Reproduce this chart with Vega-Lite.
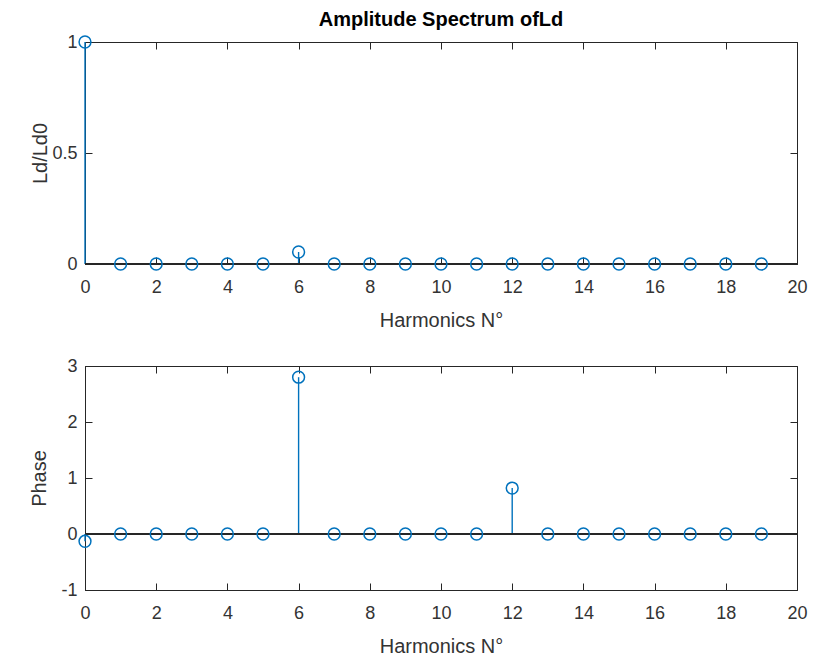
{
  "$schema": "https://vega.github.io/schema/vega-lite/v6.json",
  "padding": {"left": 29, "top": 9, "right": 12, "bottom": 2},
  "datasets": {
    "amp": [
      {"n": 0, "v": 1}, {"n": 1, "v": 0}, {"n": 2, "v": 0}, {"n": 3, "v": 0}, {"n": 4, "v": 0},
      {"n": 5, "v": 0}, {"n": 6, "v": 0.054}, {"n": 7, "v": 0}, {"n": 8, "v": 0}, {"n": 9, "v": 0},
      {"n": 10, "v": 0}, {"n": 11, "v": 0}, {"n": 12, "v": 0}, {"n": 13, "v": 0}, {"n": 14, "v": 0},
      {"n": 15, "v": 0}, {"n": 16, "v": 0}, {"n": 17, "v": 0}, {"n": 18, "v": 0}, {"n": 19, "v": 0}
    ],
    "phase": [
      {"n": 0, "v": -0.13}, {"n": 1, "v": 0}, {"n": 2, "v": 0}, {"n": 3, "v": 0}, {"n": 4, "v": 0},
      {"n": 5, "v": 0}, {"n": 6, "v": 2.8}, {"n": 7, "v": 0}, {"n": 8, "v": 0}, {"n": 9, "v": 0},
      {"n": 10, "v": 0}, {"n": 11, "v": 0}, {"n": 12, "v": 0.82}, {"n": 13, "v": 0}, {"n": 14, "v": 0},
      {"n": 15, "v": 0}, {"n": 16, "v": 0}, {"n": 17, "v": 0}, {"n": 18, "v": 0}, {"n": 19, "v": 0}
    ]
  },
  "config": {
    "font": "Liberation Sans",
    "background": "white",
    "view": {"stroke": "#262626", "strokeWidth": 1},
    "axis": {
      "grid": false,
      "domainColor": "#262626",
      "tickColor": "#262626",
      "labelColor": "#333333",
      "titleColor": "#333333",
      "labelFontSize": 18,
      "titleFontSize": 20,
      "titleFontWeight": "normal",
      "tickSize": -7,
      "labelPadding": 15,
      "labelFlush": false,
      "labelOverlap": false
    },
    "title": {"fontSize": 20, "fontWeight": "bold", "color": "#000000", "frame": "group", "offset": 3}
  },
  "spacing": 25,
  "vconcat": [
    {
      "width": 712,
      "height": 222,
      "title": "Amplitude Spectrum ofLd",
      "data": {"name": "amp"},
      "resolve": {"axis": {"x": "independent", "y": "independent"}},
      "layer": [
        {
          "mark": {"type": "rule", "color": "#0072BD", "strokeWidth": 1.4},
          "encoding": {
            "x": {"field": "n", "type": "quantitative", "scale": {"domain": [0, 20], "nice": false},
                  "axis": {"values": [0, 2, 4, 6, 8, 10, 12, 14, 16, 18, 20], "title": "Harmonics N°", "labelPadding": 21, "titlePadding": 14}},
            "y": {"field": "v", "type": "quantitative", "scale": {"domain": [0, 1], "nice": false},
                  "axis": {"values": [0, 0.5, 1], "labelExpr": "datum.value + ''", "title": "Ld/Ld0", "titlePadding": 1}},
            "y2": {"datum": 0}
          }
        },
        {
          "mark": {"type": "rule", "color": "#262626", "strokeWidth": 1},
          "encoding": {"y": {"datum": 0, "type": "quantitative", "axis": null}}
        },
        {
          "mark": {"type": "point", "shape": "circle", "filled": false, "color": "#0072BD", "size": 140, "strokeWidth": 1.5, "opacity": 1},
          "encoding": {
            "x": {"field": "n", "type": "quantitative",
                  "axis": {"orient": "top", "values": [0, 2, 4, 6, 8, 10, 12, 14, 16, 18, 20], "labels": false, "title": null, "domain": false}},
            "y": {"field": "v", "type": "quantitative",
                  "axis": {"orient": "right", "values": [0, 0.5, 1], "labels": false, "title": null, "domain": false}}
          }
        }
      ]
    },
    {
      "width": 712,
      "height": 224,
      "data": {"name": "phase"},
      "resolve": {"axis": {"x": "independent", "y": "independent"}},
      "layer": [
        {
          "mark": {"type": "rule", "color": "#0072BD", "strokeWidth": 1.4},
          "encoding": {
            "x": {"field": "n", "type": "quantitative", "scale": {"domain": [0, 20], "nice": false},
                  "axis": {"values": [0, 2, 4, 6, 8, 10, 12, 14, 16, 18, 20], "title": "Harmonics N°", "labelPadding": 21, "titlePadding": 14}},
            "y": {"field": "v", "type": "quantitative", "scale": {"domain": [-1, 3], "nice": false},
                  "axis": {"values": [-1, 0, 1, 2, 3], "labelExpr": "datum.value + ''", "title": "Phase", "titlePadding": 11}},
            "y2": {"datum": 0}
          }
        },
        {
          "mark": {"type": "rule", "color": "#262626", "strokeWidth": 1},
          "encoding": {"y": {"datum": 0, "type": "quantitative", "axis": null}}
        },
        {
          "mark": {"type": "point", "shape": "circle", "filled": false, "color": "#0072BD", "size": 140, "strokeWidth": 1.5, "opacity": 1},
          "encoding": {
            "x": {"field": "n", "type": "quantitative",
                  "axis": {"orient": "top", "values": [0, 2, 4, 6, 8, 10, 12, 14, 16, 18, 20], "labels": false, "title": null, "domain": false}},
            "y": {"field": "v", "type": "quantitative",
                  "axis": {"orient": "right", "values": [-1, 0, 1, 2, 3], "labels": false, "title": null, "domain": false}}
          }
        }
      ]
    }
  ]
}
